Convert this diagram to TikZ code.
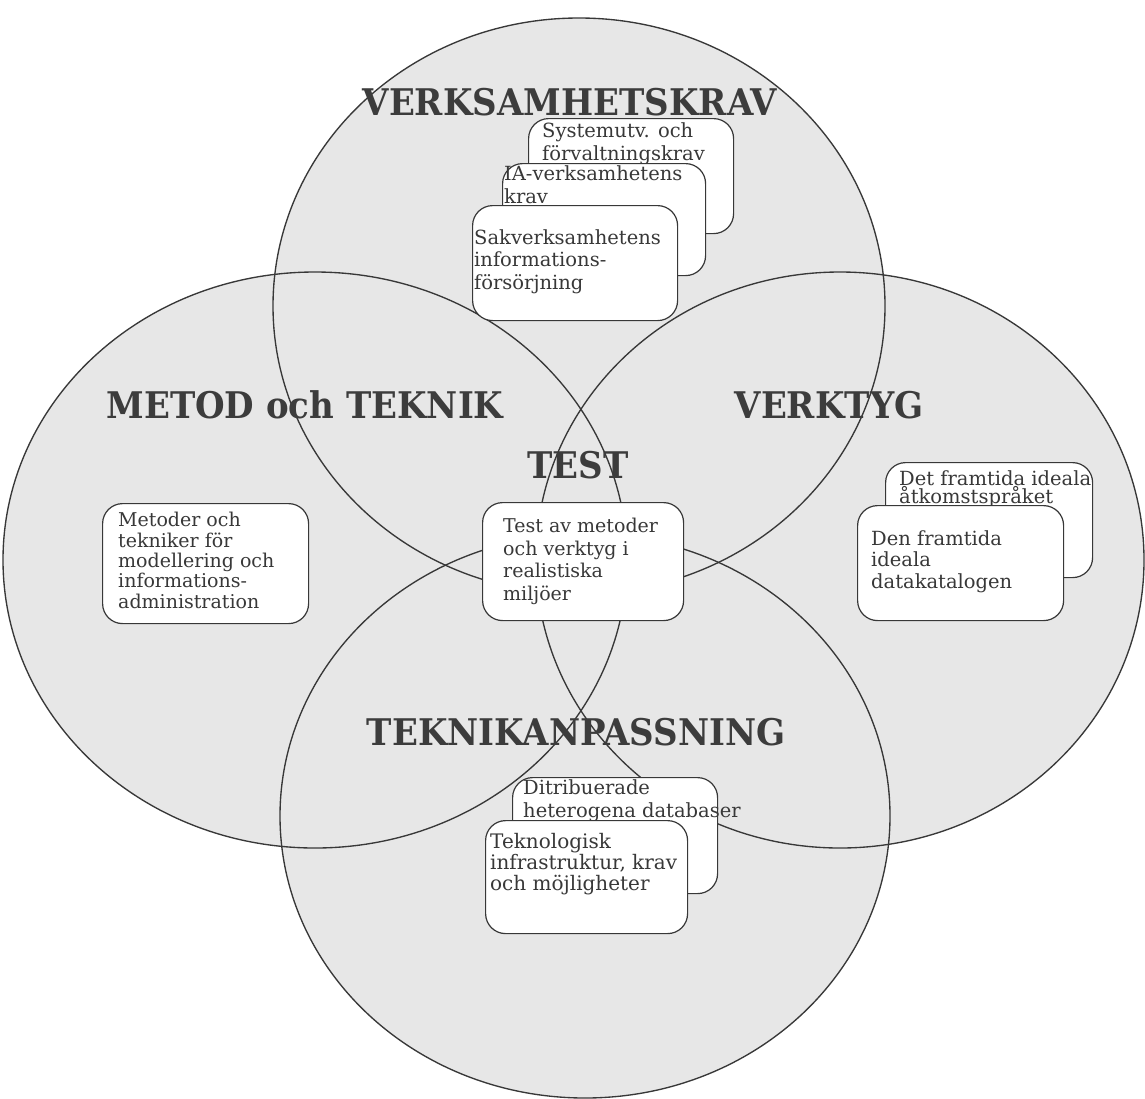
\documentclass[tikz,border=0pt]{standalone}
\usepackage{graphicx}
\usepackage{fontspec}
\setmainfont{DejaVu Serif}
\definecolor{ink}{HTML}{383838}
\definecolor{zone}{HTML}{E7E7E7}
\definecolor{head}{HTML}{3C3C3C}
% bold area heading, slightly stretched upwards
\newcommand\areahead[1]{\scalebox{1}[1.08]{#1}}
\begin{document}
\begin{tikzpicture}[x=1pt,y=-1pt,
  ring/.style={draw=ink, line width=1.35pt},
  card/.style={draw=ink, line width=1.2pt, fill=white, rounded corners=20pt,
               inner sep=0pt, anchor=north west},
  body/.style={font=\fontsize{19.5}{22.5}\selectfont, text=ink, align=left,
               inner sep=0pt, anchor=base west},
  title/.style={font=\fontsize{34}{34}\selectfont\bfseries, text=head, inner sep=0pt}]
\useasboundingbox (0,0) rectangle (1145,1098);
\fill[white] (0,0) rectangle (1145,1098);

% the four overlapping areas
\fill[zone] (579,306) ellipse [x radius=306, y radius=288];
\fill[zone] (315,560) ellipse [x radius=312, y radius=288];
\fill[zone] (840,560) ellipse [x radius=304, y radius=288];
\fill[zone] (585,816) ellipse [x radius=305, y radius=282];
\draw[ring] (579,306) ellipse [x radius=306, y radius=288];
\draw[ring] (315,560) ellipse [x radius=312, y radius=288];
\draw[ring] (840,560) ellipse [x radius=304, y radius=288];
\draw[ring] (585,816) ellipse [x radius=305, y radius=282];

% area headings
\node[title] (hkrav) at (570,102) {\areahead{VERKSAMHETSKRAV}};
\node[title] (hmetod) at (305,405) {\areahead{METOD och TEKNIK}};
\node[title] (hverk) at (829,405) {\areahead{VERKTYG}};
\node[title] (htest) at (578,465) {\areahead{TEST}};
\node[title] (hanp) at (576,732) {\areahead{TEKNIKANPASSNING}};

% business requirements stack
\node[card, minimum width=205pt, minimum height=115pt] (sysbox) at (528,118) {};
\node[body] (systxt) at (542,160) {Systemutv. och\\förvaltningskrav};
\node[card, minimum width=203pt, minimum height=112pt] (iabox) at (502,163) {};
\node[body] (iatxt) at (504,203) {IA-verksamhetens\\krav};
\node[card, minimum width=205pt, minimum height=115pt] (sakbox) at (472,205) {};
\node[body] (saktxt) at (474,289) {Sakverksamhetens\\informations-\\försörjning};

% methods
\node[card, minimum width=206pt, minimum height=120pt] (metbox) at (102,503) {};
\node[body, font=\fontsize{19}{20.3}\selectfont] (mettxt) at (118,608)
  {Metoder och\\tekniker för\\modellering och\\informations-\\administration};

% test
\node[card, minimum width=201pt, minimum height=118pt] (testbox) at (482,502) {};
\node[body, font=\fontsize{19}{22.5}\selectfont] (testtxt) at (503,600)
  {Test av metoder\\och verktyg i\\realistiska\\miljöer};

% tools stack
\node[card, minimum width=207pt, minimum height=115pt] (detbox) at (885,462) {};
\node[body, font=\fontsize{19.5}{18}\selectfont] (dettxt) at (899,503)
  {Det framtida ideala\\åtkomstspråket};
\node[card, minimum width=206pt, minimum height=115pt] (denbox) at (857,505) {};
\node[body, font=\fontsize{19.5}{21.5}\selectfont] (dentxt) at (871,588)
  {Den framtida\\ideala\\datakatalogen};

% technology stack
\node[card, minimum width=205pt, minimum height=116pt] (ditbox) at (512,777) {};
\node[body] (dittxt) at (523,817) {Ditribuerade\\heterogena databaser};
\node[card, minimum width=202pt, minimum height=113pt] (tekbox) at (485,820) {};
\node[body, font=\fontsize{20}{21}\selectfont] (tektxt) at (490,890)
  {Teknologisk\\infrastruktur, krav\\och möjligheter};
\end{tikzpicture}
\end{document}
